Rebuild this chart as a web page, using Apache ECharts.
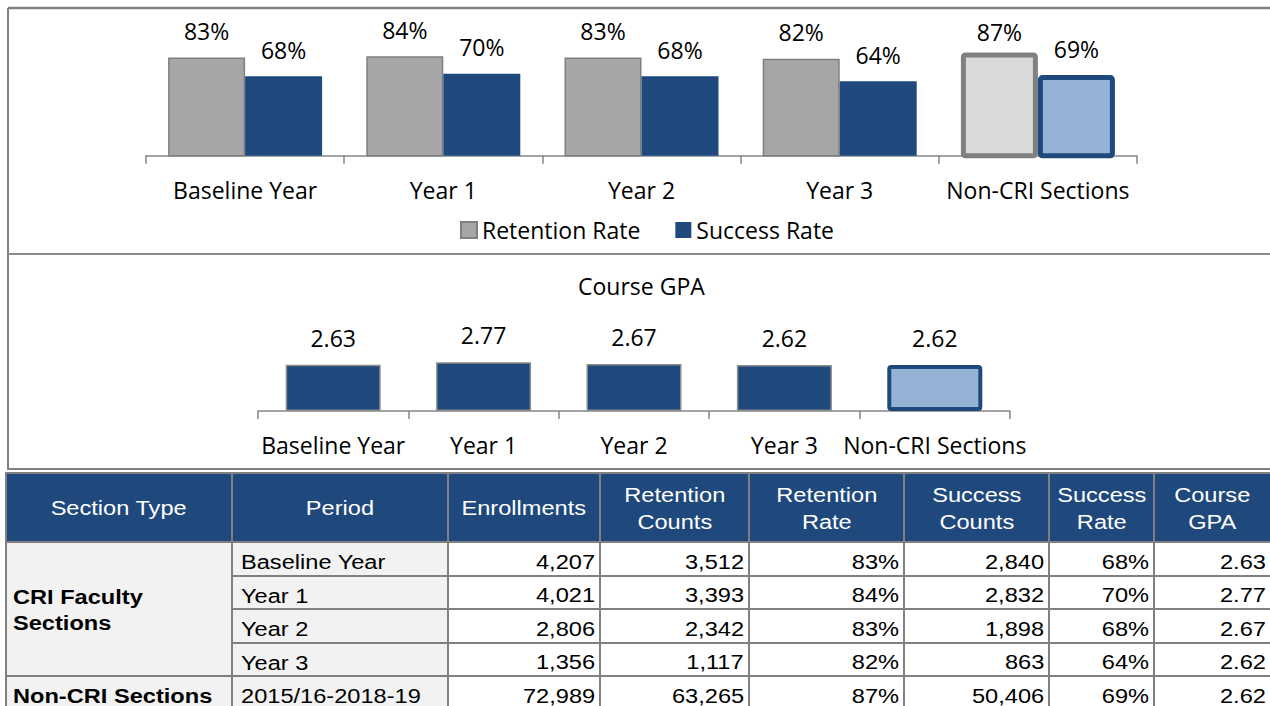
<!DOCTYPE html>
<html>
<head>
<meta charset="utf-8">
<script src="https://cdn.jsdelivr.net/npm/echarts/dist/echarts.min.js"></script>
<style>
html,body{margin:0;padding:0;background:#fff;width:1270px;height:706px;overflow:hidden;}
#chart{position:absolute;left:0;top:0;width:1270px;height:472px;}
#table{position:absolute;left:0;top:0;width:1270px;height:706px;}
.cell{position:absolute;box-sizing:border-box;border-right:2px solid #808080;border-bottom:2px solid #808080;display:flex;align-items:center;font-family:"Liberation Sans",Arial,sans-serif;font-size:20px;color:#000;padding:6px 5px 0 5px;overflow:hidden;white-space:pre;}
.cell span{display:inline-block;transform:scaleX(1.18);}
.hd{background:#1F497D;color:#fff;justify-content:center;text-align:center;line-height:27px;padding-top:2px;}
.hd span{transform-origin:center center;}
.lab{background:#F2F2F2;justify-content:flex-start;line-height:26px;padding-left:8px;}
.lab span{transform-origin:left center;}
.bold{font-weight:bold;padding-left:6px;}
.merged{padding-top:2px;}
.num{background:#fff;justify-content:flex-end;padding-right:4px;}
.num span{transform-origin:right center;}
</style>
</head>
<body>
<div id="chart"></div>
<div id="table"></div>
<script>
// ---- data ----
const categories = ['Baseline Year', 'Year 1', 'Year 2', 'Year 3', 'Non-CRI Sections'];
const retentionRate = [83, 84, 83, 82, 87];
const successRate = [68, 70, 68, 64, 69];
const courseGPA = [2.63, 2.77, 2.67, 2.62, 2.62];
const legendNames = ['Retention Rate', 'Success Rate'];
const gpaTitle = 'Course GPA';

const tableHeaders = ['Section Type', 'Period', 'Enrollments', 'Retention\nCounts', 'Retention\nRate', 'Success\nCounts', 'Success\nRate', 'Course\nGPA'];
const sectionTypes = ['CRI Faculty\nSections', 'Non-CRI Sections'];
const periods = ['Baseline Year', 'Year 1', 'Year 2', 'Year 3', '2015/16-2018-19'];
const enrollments = [4207, 4021, 2806, 1356, 72989];
const retentionCounts = [3512, 3393, 2342, 1117, 63265];
const successCounts = [2840, 2832, 1898, 863, 50406];

// ---- chart ----
const FONT = 'Open Sans';
const FS = 23;
const highlightIndex = categories.length - 1;

const retData = retentionRate.map((v, i) => i === highlightIndex
  ? { value: v, itemStyle: { color: '#D9D9D9', borderColor: '#808080', borderWidth: 5, borderRadius: 2 }, label: { distance: 9 } }
  : v);
const sucData = successRate.map((v, i) => i === highlightIndex
  ? { value: v, itemStyle: { color: '#95B3D7', borderColor: '#1F497D', borderWidth: 5, borderRadius: 2 } }
  : v);
const gpaData = courseGPA.map((v, i) => i === highlightIndex
  ? { value: v, itemStyle: { color: '#95B3D7', borderColor: '#1F497D', borderWidth: 4, borderRadius: 2 } }
  : v);

const labelStyle = { show: true, position: 'top', distance: 15, fontSize: FS, fontFamily: FONT, color: '#000' };
const axisCommon = {
  type: 'category',
  data: categories,
  axisLine: { lineStyle: { color: '#868686', width: 1.5 } },
  axisTick: { show: true, length: 8, lineStyle: { color: '#868686', width: 1.5 } },
  axisLabel: { interval: 0, fontSize: FS, fontFamily: FONT, color: '#000', margin: 22.5 }
};

const chart = echarts.init(document.getElementById('chart'), null, { renderer: 'svg' });
chart.setOption({
  animation: false,
  title: {
    text: gpaTitle, left: 578, top: 274.5, padding: 0,
    textStyle: { fontSize: FS, fontFamily: FONT, fontWeight: 'normal', color: '#000' }
  },
  legend: {
    data: legendNames, left: 460, top: 218.5, padding: 0,
    icon: 'rect', itemWidth: 16, itemHeight: 16, itemGap: 35,
    textStyle: { fontSize: FS, fontFamily: FONT, color: '#000' }
  },
  grid: [
    { left: 146, width: 991, top: 36.3, height: 119.4 },
    { left: 258, width: 752, top: 358.2, height: 52.8 }
  ],
  xAxis: [
    Object.assign({ gridIndex: 0 }, axisCommon),
    Object.assign({ gridIndex: 1 }, axisCommon)
  ],
  yAxis: [
    { type: 'value', gridIndex: 0, min: 4.5, max: 100, show: false },
    { type: 'value', gridIndex: 1, min: 0, max: 3, show: false }
  ],
  series: [
    {
      type: 'bar', name: legendNames[0], xAxisIndex: 0, yAxisIndex: 0, data: retData,
      barWidth: 77, barGap: '0%',
      itemStyle: { color: '#A6A6A6', borderColor: '#7F7F7F', borderWidth: 1.5 },
      label: Object.assign({ formatter: '{c}%' }, labelStyle)
    },
    {
      type: 'bar', name: legendNames[1], xAxisIndex: 0, yAxisIndex: 0, data: sucData,
      barWidth: 77, barGap: '0%',
      itemStyle: { color: '#1F497D', borderColor: '#1F497D', borderWidth: 0 },
      label: Object.assign({ formatter: '{c}%' }, labelStyle)
    },
    {
      type: 'bar', name: gpaTitle, xAxisIndex: 1, yAxisIndex: 1, data: gpaData,
      barWidth: 95,
      itemStyle: { color: '#1F497D', borderColor: '#8C8C8C', borderWidth: 1.5 },
      label: Object.assign({}, labelStyle, { distance: 15.5, formatter: p => p.value.toFixed(2) })
    }
  ],
  graphic: [
    { type: 'line', shape: { x1: 8, y1: 8, x2: 1270, y2: 8 }, style: { stroke: '#808080', lineWidth: 2.5 } },
    { type: 'line', shape: { x1: 8, y1: 8, x2: 8, y2: 470 }, style: { stroke: '#808080', lineWidth: 2 } },
    { type: 'line', shape: { x1: 8, y1: 254, x2: 1270, y2: 254 }, style: { stroke: '#8C8C8C', lineWidth: 2 } },
    { type: 'line', shape: { x1: 8, y1: 469, x2: 1270, y2: 469 }, style: { stroke: '#808080', lineWidth: 2 } }
  ]
});

// ---- table ----
const colX = [5, 233, 449, 601, 750, 905, 1050, 1155, 1272];
const rowY = [472, 543, 577, 610, 644, 677, 711];
const fmt = n => n.toLocaleString('en-US');
const tbl = document.getElementById('table');

function addCell(c0, c1, r0, r1, text, cls) {
  const d = document.createElement('div');
  d.className = 'cell ' + cls;
  d.style.left = colX[c0] + 'px';
  d.style.top = rowY[r0] + 'px';
  d.style.width = (colX[c1] - colX[c0]) + 'px';
  d.style.height = (rowY[r1] - rowY[r0]) + 'px';
  if (c0 === 0) d.style.borderLeft = '2px solid #808080';
  if (r0 === 0) d.style.borderTop = '2px solid #808080';
  const s = document.createElement('span');
  s.textContent = text;
  d.appendChild(s);
  tbl.appendChild(d);
}

tableHeaders.forEach((h, c) => addCell(c, c + 1, 0, 1, h, 'hd'));
addCell(0, 1, 1, 5, sectionTypes[0], 'lab bold merged');
addCell(0, 1, 5, 6, sectionTypes[1], 'lab bold');
periods.forEach((p, r) => {
  const row = r + 1;
  addCell(1, 2, row, row + 1, p, 'lab');
  addCell(2, 3, row, row + 1, fmt(enrollments[r]), 'num');
  addCell(3, 4, row, row + 1, fmt(retentionCounts[r]), 'num');
  addCell(4, 5, row, row + 1, retentionRate[r] + '%', 'num');
  addCell(5, 6, row, row + 1, fmt(successCounts[r]), 'num');
  addCell(6, 7, row, row + 1, successRate[r] + '%', 'num');
  addCell(7, 8, row, row + 1, courseGPA[r].toFixed(2), 'num');
});
</script>
</body>
</html>
